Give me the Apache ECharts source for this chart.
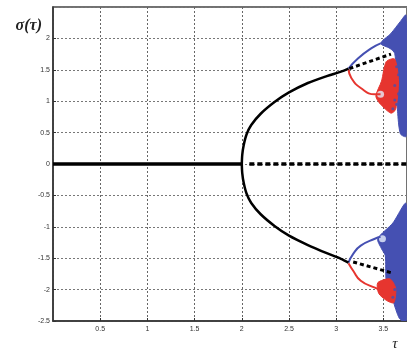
<!DOCTYPE html>
<html>
<head>
<meta charset="utf-8">
<script src="https://cdn.jsdelivr.net/npm/echarts@6/dist/echarts.min.js"></script>
<style>
  html, body { margin: 0; padding: 0; background: #fff; }
  #chart { width: 407px; height: 355px; }
</style>
</head>
<body>
<div id="chart"></div>
<script>
// Axis ticks
const xTicks = [0, 0.5, 1, 1.5, 2, 2.5, 3, 3.5];
const yTicks = [-2.5, -2, -1.5, -1, -0.5, 0, 0.5, 1, 1.5, 2, 2.5];

// Stable zero branch before the pitchfork point
const zeroStable = [[0, 0], [2, 0]];
// Unstable zero branch after the pitchfork point
const zeroUnstable = [[2.08, 0], [3.75, 0]];

// Stable upper / lower branches (τ, σ)
const upperBranch = [[2, 0], [2.005, 0.15], [2.02, 0.3], [2.05, 0.47], [2.1, 0.62], [2.2, 0.8],
  [2.35, 0.99], [2.5, 1.14], [2.7, 1.29], [2.9, 1.4], [3.05, 1.47], [3.13, 1.52]];
const lowerBranch = [[2, 0], [2.005, -0.15], [2.02, -0.3], [2.05, -0.47], [2.1, -0.62], [2.2, -0.8],
  [2.35, -0.99], [2.5, -1.14], [2.7, -1.29], [2.9, -1.42], [3.05, -1.51], [3.13, -1.57]];

// Unstable continuations after the period doubling
const upperUnstable = [[3.14, 1.52], [3.58, 1.75]];
const lowerUnstable = [[3.18, -1.56], [3.58, -1.73]];

// Period-doubled orbits (blue: higher value, red: lower value)
const blueUpperCurve = [[3.13, 1.52], [3.23, 1.68], [3.37, 1.84], [3.47, 1.92]];
const redUpperCurve = [[3.13, 1.51], [3.16, 1.37], [3.26, 1.21], [3.41, 1.11], [3.47, 1.11]];
const blueLowerCurve = [[3.13, -1.57], [3.18, -1.43], [3.26, -1.3], [3.41, -1.19], [3.47, -1.16]];
const redLowerCurve = [[3.13, -1.58], [3.18, -1.7], [3.26, -1.86], [3.41, -1.97], [3.49, -2.02]];

// Chaotic bands
const blueUpperBand = [[3.47, 1.92], [3.58, 2.08], [3.68, 2.27], [3.74, 2.37], [3.74, 0.44],
  [3.68, 0.48], [3.65, 0.84], [3.64, 1.32], [3.62, 1.76], [3.57, 1.84]];
const redUpperBand = [[3.53, 1.63], [3.62, 1.67], [3.66, 1.32], [3.63, 0.87], [3.58, 0.81],
  [3.47, 0.95], [3.42, 1.08], [3.48, 1.32]];
const blueLowerBand = [[3.44, -1.19], [3.6, -0.94], [3.74, -0.63], [3.74, -2.52], [3.67, -2.46],
  [3.6, -2.17], [3.53, -1.86], [3.52, -1.46], [3.48, -1.35]];
const redLowerBand = [[3.44, -1.89], [3.57, -1.83], [3.63, -1.98], [3.61, -2.21], [3.53, -2.17], [3.45, -2.06]];

// Windows inside the bands
const bandHoles = [[3.49, -1.19], [3.47, 1.11]];
// Scattered blue iterates over the red band
const blueSpecks = [[3.64, 1.55], [3.66, 1.42], [3.62, 1.25], [3.66, 1.12], [3.62, 1.02],
  [3.64, 0.95], [3.6, 0.88], [3.62, -2.0], [3.6, -2.12]];

function lineSeries(data, color, width, dash, smooth) {
  return {
    type: 'line', data: data, symbol: 'none', smooth: smooth || false,
    lineStyle: { color: color, width: width, type: dash || 'solid' },
    z: 5
  };
}

function bandSeries(points, color, z) {
  return {
    type: 'custom', data: points, clip: true, z: z,
    encode: { x: 0, y: 1 },
    renderItem: function (params, api) {
      if (params.dataIndex !== 0) return null;
      const pts = points.map(p => api.coord(p));
      return {
        type: 'polygon',
        shape: { points: pts, smooth: 0.25 },
        style: { fill: color, stroke: color, lineWidth: 1 }
      };
    }
  };
}

const chart = echarts.init(document.getElementById('chart'));
chart.setOption({
  animation: false,
  grid: {
    left: 53, right: -2, top: 7, bottom: 34,
    show: true, borderColor: '#444', borderWidth: 1.5
  },
  xAxis: {
    type: 'value', min: xTicks[0], max: 3.75, interval: 0.5,
    name: 'τ', nameLocation: 'end', nameGap: -12,
    nameTextStyle: {
      fontFamily: 'Liberation Serif', fontStyle: 'italic', fontSize: 15, color: '#222',
      align: 'center', verticalAlign: 'top', padding: [16, 0, 0, 0]
    },
    axisLine: { show: true, onZero: false, lineStyle: { color: '#333', width: 1.5 } },
    axisTick: { show: true, inside: true, length: 3, lineStyle: { color: '#333' } },
    axisLabel: {
      fontSize: 7, color: '#333', margin: 5,
      showMinLabel: false, showMaxLabel: false
    },
    splitLine: { show: true, lineStyle: { color: '#666', type: [2, 2], width: 1 } }
  },
  yAxis: {
    type: 'value', min: yTicks[0], max: yTicks[yTicks.length - 1], interval: 0.5,
    name: 'σ(τ)', nameLocation: 'end', nameGap: -19,
    nameTextStyle: {
      fontFamily: 'Liberation Serif', fontStyle: 'italic', fontWeight: 'bold', fontSize: 16, color: '#222',
      align: 'right', verticalAlign: 'middle', padding: [0, 11, 0, 0]
    },
    axisLine: { show: true, onZero: false, lineStyle: { color: '#333', width: 1.5 } },
    axisTick: { show: true, inside: true, length: 3, lineStyle: { color: '#333' } },
    axisLabel: { fontSize: 7, color: '#333', margin: 3, showMaxLabel: false },
    splitLine: { show: true, lineStyle: { color: '#777', type: [2, 2], width: 1 } }
  },
  series: [
    bandSeries(blueUpperBand, '#4550b2', 2),
    bandSeries(redUpperBand, '#e6352f', 3),
    bandSeries(blueLowerBand, '#4550b2', 2),
    bandSeries(redLowerBand, '#e6352f', 3),
    {
      type: 'scatter', data: blueSpecks, symbolSize: 3, z: 4,
      itemStyle: { color: '#4550b2' }
    },
    {
      type: 'scatter', data: bandHoles, symbolSize: 7, z: 4,
      itemStyle: { color: '#e6eefa' }
    },
    lineSeries(blueUpperCurve, '#4550b2', 2, 'solid', true),
    lineSeries(redUpperCurve, '#e6352f', 2, 'solid', true),
    lineSeries(blueLowerCurve, '#4550b2', 2, 'solid', true),
    lineSeries(redLowerCurve, '#e6352f', 2, 'solid', true),
    lineSeries(zeroStable, '#000', 3.5),
    lineSeries(zeroUnstable, '#000', 3.5, [5, 3]),
    lineSeries(upperBranch, '#000', 2.5, 'solid', 0.3),
    lineSeries(lowerBranch, '#000', 2.5, 'solid', 0.3),
    lineSeries(upperUnstable, '#000', 3, [4, 3]),
    lineSeries(lowerUnstable, '#000', 3, [4, 3])
  ]
});
</script>
</body>
</html>
